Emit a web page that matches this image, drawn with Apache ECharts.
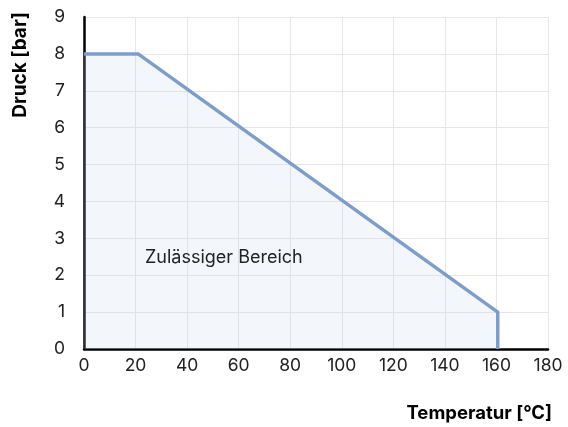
<!DOCTYPE html>
<html>
<head>
<meta charset="utf-8">
<script src="https://cdn.jsdelivr.net/npm/echarts@6/dist/echarts.min.js"></script>
<style>
  html, body { margin: 0; padding: 0; background: #fff; }
  #chart { width: 568px; height: 427px; }
</style>
</head>
<body>
<div id="chart"></div>
<script>
// Chart data
var temperatures = [0, 21, 160.5, 160.5];
var pressures = [8, 8, 1, 0];
var xTicks = [0, 20, 40, 60, 80, 100, 120, 140, 160, 180];
var yTicks = [0, 1, 2, 3, 4, 5, 6, 7, 8, 9];
var areaLabel = 'Zulässiger Bereich';
var xName = 'Temperatur [°C]';
var yName = 'Druck [bar]';

var font = 'Inter, "Noto Sans", sans-serif';

var chart = echarts.init(document.getElementById('chart'));

chart.setOption({
    animation: false,
    textStyle: { fontFamily: font },
    grid: { left: 84, right: 20, top: 17, bottom: 78 },
    xAxis: {
        type: 'value',
        min: xTicks[0],
        max: xTicks[xTicks.length - 1],
        interval: 20,
        axisLine: { onZero: false, lineStyle: { color: '#000', width: 2.5 } },
        axisTick: { show: false },
        axisLabel: { color: '#222', fontSize: 17.5, margin: 8, fontFamily: font },
        splitLine: { show: true, lineStyle: { color: '#e6e6e6', width: 1 } }
    },
    yAxis: {
        type: 'value',
        min: yTicks[0],
        max: yTicks[yTicks.length - 1],
        interval: 1,
        axisLine: { show: true, onZero: false, lineStyle: { color: '#000', width: 2.5 } },
        axisTick: { show: false },
        axisLabel: { color: '#222', fontSize: 17.5, margin: 19, fontFamily: font },
        splitLine: { show: true, lineStyle: { color: '#e6e6e6', width: 1 } }
    },
    graphic: [
        {
            type: 'text',
            x: 552,
            y: 413,
            style: {
                text: xName, font: 'bold 18.5px ' + font, fill: '#000',
                align: 'right', verticalAlign: 'middle'
            }
        },
        {
            type: 'text',
            x: 20,
            y: 65,
            rotation: Math.PI / 2,
            style: {
                text: yName, font: 'bold 19px ' + font, fill: '#000',
                align: 'center', verticalAlign: 'middle'
            }
        },
        {
            type: 'text',
            x: 145,
            y: 258,
            z: 10,
            style: {
                text: areaLabel, font: '18px ' + font, fill: '#222',
                verticalAlign: 'middle'
            }
        }
    ],
    series: [{
        type: 'line',
        data: temperatures.map(function(t, i) { return [t, pressures[i]]; }),
        symbol: 'none',
        lineStyle: { color: '#7d9dca', width: 3.5 },
        areaStyle: { color: 'rgba(200, 215, 235, 0.3)', origin: 'start' },
        z: 3
    }]
});
</script>
</body>
</html>
